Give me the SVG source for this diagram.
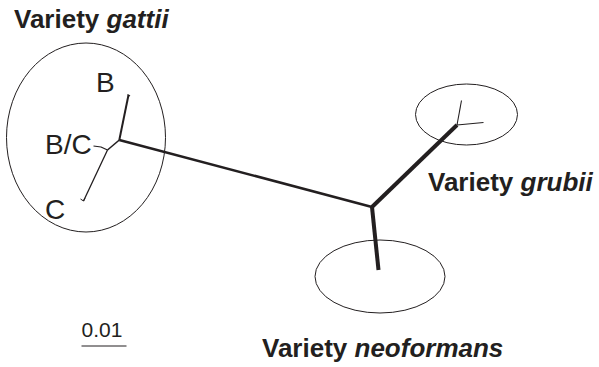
<svg xmlns="http://www.w3.org/2000/svg" width="599" height="367" viewBox="0 0 599 367">
  <style>
    .title { font-family: "Liberation Sans", Arial, sans-serif; font-size: 26px; font-weight: bold; fill: #231f20; }
    .title tspan.sp { font-style: italic; }
    .lbl { font-family: "Liberation Sans", Arial, sans-serif; font-size: 28px; fill: #231f20; }
    .scale { font-family: "Liberation Sans", Arial, sans-serif; font-size: 21px; fill: #231f20; }
    .ring { fill: none; stroke: #231f20; stroke-width: 1; }
    .br { fill: none; stroke: #231f20; stroke-linecap: butt; stroke-linejoin: round; }
  </style>

  <rect width="599" height="367" fill="#ffffff"/>

  <!-- variety groups -->
  <g id="gattii">
    <ellipse class="ring" cx="86" cy="137.5" rx="79.5" ry="94.5"/>
    <text class="title" x="14" y="28">Variety <tspan class="sp">gattii</tspan></text>
    <text class="lbl" x="96" y="92">B</text>
    <text class="lbl" x="45" y="154">B/C</text>
    <text class="lbl" x="45" y="219">C</text>
  </g>

  <g id="grubii">
    <ellipse class="ring" cx="466.5" cy="114.5" rx="51" ry="30.5"/>
    <text class="title" x="428" y="191">Variety <tspan class="sp">grubii</tspan></text>
  </g>

  <g id="neoformans">
    <ellipse class="ring" cx="380" cy="276.5" rx="65" ry="36.5"/>
    <text class="title" x="262" y="357">Variety <tspan class="sp">neoformans</tspan></text>
  </g>

  <!-- tree branches -->
  <g id="connectors">
    <!-- internal branch between the gattii cluster and the central node -->
    <line class="br" x1="119.3" y1="140" x2="372" y2="207" stroke-width="2.6"/>
    <!-- central node to grubii and neoformans -->
    <line class="br" x1="372" y1="207" x2="457" y2="125" stroke-width="4"/>
    <line class="br" x1="372" y1="207" x2="378.5" y2="270" stroke-width="4"/>
    <!-- grubii tips -->
    <line class="br" x1="457" y1="125" x2="461.5" y2="100.5" stroke-width="1.1"/>
    <line class="br" x1="457" y1="125" x2="483.5" y2="122.5" stroke-width="1.1"/>
    <!-- gattii subtree -->
    <line class="br" x1="119.3" y1="140" x2="128.5" y2="95" stroke-width="2"/>
    <line class="br" x1="127.5" y1="94.5" x2="130" y2="96" stroke-width="1.2"/>
    <line class="br" x1="119.3" y1="140" x2="107.5" y2="150" stroke-width="1.6"/>
    <polyline class="br" points="107.5,150 101,147 93.5,146" stroke-width="1.2"/>
    <line class="br" x1="107.5" y1="150" x2="83.5" y2="201" stroke-width="1.3"/>
    <polyline class="br" points="80.5,199 83.5,201 85,198" stroke-width="1"/>
  </g>

  <!-- scale bar -->
  <g id="scalebar">
    <text class="scale" x="81.5" y="336.5">0.01</text>
    <line x1="81.5" y1="346" x2="126.5" y2="346" stroke="#231f20" stroke-width="1"/>
  </g>
</svg>
